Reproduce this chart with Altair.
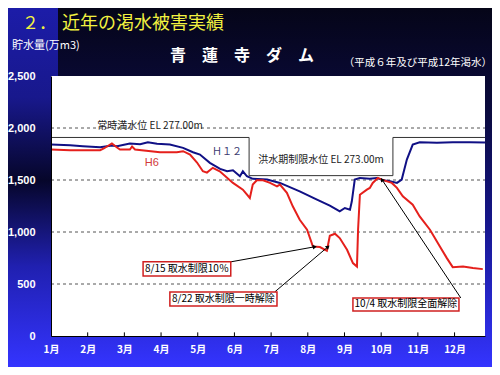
import math
import altair as alt
import pandas as pd

# ---------------- data (month as fractional month, value in 万m3) ----------------
h12_month = [1.00, 1.52, 1.87, 2.34, 2.66, 2.80, 3.15, 3.43, 3.64, 3.89, 4.24, 4.60, 4.87, 5.06,
             5.33, 5.61, 5.80, 5.96, 6.15, 6.23, 6.34, 6.50, 6.89, 7.24, 7.78, 8.25, 8.60, 8.79,
             8.87, 9.01, 9.15, 9.20, 9.28, 9.42, 9.69, 9.88, 10.05, 10.24, 10.43, 10.56, 10.70,
             10.86, 11.05, 11.52, 11.95, 12.42, 12.83]
h12_value = [1841, 1834, 1825, 1815, 1832, 1825, 1851, 1844, 1863, 1848, 1841, 1809, 1767, 1745,
             1665, 1607, 1584, 1594, 1536, 1584, 1536, 1511, 1504, 1472, 1391, 1311, 1253, 1215,
             1198, 1231, 1215, 1295, 1504, 1520, 1511, 1520, 1497, 1487, 1472, 1504, 1697,
             1841, 1863, 1858, 1863, 1863, 1860]

h6_month = [1.00, 1.52, 2.34, 2.44, 2.66, 2.80, 2.88, 3.15, 3.21, 3.29, 3.97, 4.43, 4.60, 4.79,
            4.98, 5.14, 5.25, 5.41, 5.60, 5.96, 6.23, 6.42, 6.50, 6.61, 6.78, 6.97, 7.16, 7.24,
            7.43, 7.59, 7.78, 7.98, 8.14, 8.33, 8.52, 8.60, 8.74, 8.87, 9.07, 9.23, 9.34, 9.37,
            9.42, 9.61, 9.69, 9.77, 9.91, 10.02, 10.16, 10.29, 10.43, 10.59, 10.86, 11.05, 11.33,
            11.60, 11.79, 11.95, 12.23, 12.50, 12.77]
h6_value = [1793, 1786, 1786, 1803, 1851, 1812, 1793, 1793, 1822, 1793, 1767, 1767, 1777, 1745,
            1668, 1584, 1571, 1617, 1584, 1472, 1407, 1327, 1456, 1497, 1497, 1472, 1439, 1456,
            1376, 1247, 1118, 1022, 861, 855, 819, 964, 983, 942, 829, 701, 668, 1022,
            1359, 1407, 1424, 1472, 1520, 1504, 1487, 1472, 1424, 1343, 1263, 1150, 1022,
            861, 749, 662, 668, 653, 643]

limit_month = [1.00, 6.40, 6.40, 10.32, 10.32, 12.83]
limit_value = [1909, 1909, 1542, 1542, 1909, 1909]

grid_values = [500, 1000, 1500, 2000]
month_ticks = [1, 2, 3, 4, 5, 6, 7, 8, 9, 10, 11, 12]
y_ticks = [0, 500, 1000, 1500, 2000, 2500]

note_text = ["8/15  取水制限10％", "8/22  取水制限一時解除", "10/4  取水制限全面解除"]
note_x1 = [3.51, 4.24, 9.23]
note_x2 = [5.90, 7.16, 12.12]
note_y1 = [578, 289, 241]
note_y2 = [713, 424, 366]
arrow_from_m = [5.90, 7.10, 12.17]
arrow_from_v = [713, 424, 366]
arrow_to_m = [8.19, 8.55, 10.02]
arrow_to_v = [858, 858, 1504]

level_labels = ["常時満水位 EL 277.00m", "洪水期制限水位 EL 273.00m"]
level_label_m = [3.70, 8.36]
level_label_v = [2024, 1697]

# ---------------- layout ----------------
W, H = 434, 260
PAD = {"left": 43, "top": 68, "right": 7, "bottom": 31}
XMIN, XMAX = 1.0, 12.83
YMAX = 2500
JP = "Noto Sans CJK JP"

xs = alt.Scale(domain=[XMIN, XMAX], nice=False, zero=False)
ys = alt.Scale(domain=[0, YMAX], nice=False)
xaxis = alt.Axis(values=month_ticks, labelExpr="datum.value + '月'", labelColor="white",
                 labelFont=JP, labelFontWeight="bold", labelFontSize=10, labelPadding=8,
                 tickSize=0, domainColor="black", domainWidth=1, grid=False, title=None,
                 zindex=1, labelFlush=False)
yaxis = alt.Axis(values=y_ticks, labelExpr="format(datum.value, ',')", labelColor="white",
                 labelFont="Liberation Sans", labelFontWeight="bold", labelFontSize=11,
                 labelPadding=16, tickSize=0, domainColor="black", domainWidth=1, grid=False,
                 title=None, zindex=1, labelFlush=False)


def X(f):
    return alt.X(f, type="quantitative", scale=xs, axis=xaxis)


def Y(f):
    return alt.Y(f, type="quantitative", scale=ys, axis=yaxis)


one = pd.DataFrame({"k": [0]})

# backgrounds
bg = alt.Chart(one).mark_rect(
    fill=alt.Gradient(gradient="linear", x1=0, x2=0, y1=0, y2=1,
                      stops=[alt.GradientStop(color="#050518", offset=0),
                             alt.GradientStop(color="#0b0b40", offset=0.3),
                             alt.GradientStop(color="#16168c", offset=0.6),
                             alt.GradientStop(color="#3434ff", offset=1)])
).encode(x=alt.value(-PAD["left"]), x2=alt.value(W + PAD["right"]),
         y=alt.value(-PAD["top"]), y2=alt.value(H + PAD["bottom"]))

strip = alt.Chart(one).mark_rect(
    fill=alt.Gradient(gradient="linear", x1=0, x2=0, y1=0, y2=1,
                      stops=[alt.GradientStop(color="#1c1ca8", offset=0),
                             alt.GradientStop(color="#18188c", offset=0.25),
                             alt.GradientStop(color="#06062a", offset=0.48),
                             alt.GradientStop(color="#2020b0", offset=0.72),
                             alt.GradientStop(color="#3434ff", offset=1)])
).encode(x=alt.value(-PAD["left"]), x2=alt.value(7),
         y=alt.value(-PAD["top"]), y2=alt.value(H + PAD["bottom"]))

plotbg = alt.Chart(one).mark_rect(fill="white").encode(
    x=alt.value(0), x2=alt.value(W), y=alt.value(0), y2=alt.value(H))

# gridlines
grid = alt.Chart(pd.DataFrame({"v": grid_values})).mark_rule(
    color="#555555", strokeDash=[3, 3], strokeWidth=1
).encode(y=Y("v"), x=alt.value(0), x2=alt.value(W))

# month ticks (inside)
tick_df = pd.DataFrame({"m": month_ticks[1:], "v0": [0] * 11, "v1": [35] * 11})
ticks = alt.Chart(tick_df).mark_rule(color="black", strokeWidth=1).encode(
    x=X("m"), y=Y("v0"), y2="v1")

# mask behind the 常時満水位 label
mask = alt.Chart(pd.DataFrame({"a": [3.20], "b": [4.18], "c": [1965], "d": [2085]})).mark_rect(
    fill="white").encode(x=X("a"), x2="b", y=Y("c"), y2="d")

limit = alt.Chart(pd.DataFrame({"m": limit_month, "v": limit_value, "o": range(6)})).mark_line(
    color="#333333", strokeWidth=1).encode(x=X("m"), y=Y("v"), order="o")

h12 = alt.Chart(pd.DataFrame({"m": h12_month, "v": h12_value})).mark_line(
    color="#101085", strokeWidth=2).encode(x=X("m"), y=Y("v"), order="m")
h6 = alt.Chart(pd.DataFrame({"m": h6_month, "v": h6_value})).mark_line(
    color="#e5201c", strokeWidth=2).encode(x=X("m"), y=Y("v"), order="m")

lvl = alt.Chart(pd.DataFrame({"m": level_label_m, "v": level_label_v, "t": level_labels})).mark_text(
    font=JP, fontSize=10, color="#222222", align="center", baseline="middle").encode(
    x=X("m"), y=Y("v"), text="t")

h12_lab = alt.Chart(pd.DataFrame({"m": [5.80], "v": [1774], "t": ["Ｈ１２"]})).mark_text(
    font=JP, fontSize=10, color="#3a3a70", align="center", baseline="middle").encode(
    x=X("m"), y=Y("v"), text="t")
h6_lab = alt.Chart(pd.DataFrame({"m": [3.75], "v": [1668], "t": ["H6"]})).mark_text(
    font="Liberation Sans", fontSize=11, color="#d23a3a", align="center", baseline="middle").encode(
    x=X("m"), y=Y("v"), text="t")

# annotations
ppm = W / (XMAX - XMIN)
ppv = H / YMAX
angles = []
for fm, fv, tm, tv in zip(arrow_from_m, arrow_from_v, arrow_to_m, arrow_to_v):
    dx = (tm - fm) * ppm
    dy = -(tv - fv) * ppv
    angles.append(math.degrees(math.atan2(dx, -dy)) % 360)

arr_df = pd.DataFrame({"m": arrow_from_m, "v": arrow_from_v, "m2": arrow_to_m, "v2": arrow_to_v,
                       "ang": angles})
arrows = alt.Chart(arr_df).mark_rule(color="black", strokeWidth=1).encode(
    x=X("m"), y=Y("v"), x2="m2", y2="v2")
heads = alt.Chart(arr_df).mark_point(shape="triangle-up", filled=True, size=22, color="black",
                                     opacity=1).encode(
    x=X("m2"), y=Y("v2"), angle=alt.Angle("ang:Q", scale=None))

note_df = pd.DataFrame({"x1": note_x1, "x2": note_x2, "y1": note_y1, "y2": note_y2, "t": note_text,
                        "xc": [(a + b) / 2 for a, b in zip(note_x1, note_x2)],
                        "yc": [(a + b) / 2 for a, b in zip(note_y1, note_y2)]})
boxes = alt.Chart(note_df).mark_rect(fill="white", stroke="#d02020", strokeWidth=1.5).encode(
    x=X("x1"), x2="x2", y=Y("y1"), y2="y2")
box_text = alt.Chart(note_df).mark_text(font=JP, fontSize=10, color="black", align="center",
                                         baseline="middle").encode(x=X("xc"), y=Y("yc"), text="t")

# slide texts (pixel positioned)
def ptext(txt, x, y, size, color, align="left", weight="normal", font=JP):
    return alt.Chart(one).mark_text(text=txt, font=font, fontSize=size, color=color, align=align,
                                    baseline="middle", fontWeight=weight).encode(
        x=alt.value(x), y=alt.value(y))

t_num = ptext("２．", -12, -52, 17, "#f2f240", align="center")
t_main = ptext("近年の渇水被害実績", 11, -52, 18, "#f2f240")
t_ytitle = ptext("貯水量(万m3)", -39, -30, 11, "white")
t_dam = ptext("青　蓮　寺　ダ　ム", 191, -20, 16, "white", align="center", weight="bold")
t_sub = ptext("（平成６年及び平成12年渇水）", 441, -13, 10.5, "white", align="right")

chart = alt.layer(
    bg, strip, plotbg, grid, mask, ticks, limit, h12, h6, lvl, h12_lab, h6_lab,
    arrows, heads, boxes, box_text, t_num, t_main, t_ytitle, t_dam, t_sub
).properties(
    width=W, height=H,
    autosize=alt.AutoSizeParams(type="none"),
    padding=PAD,
    background="#0a0a40",
).configure_view(stroke=None)

chart.save("out.html", embed_options={"renderer": "svg", "actions": False})
